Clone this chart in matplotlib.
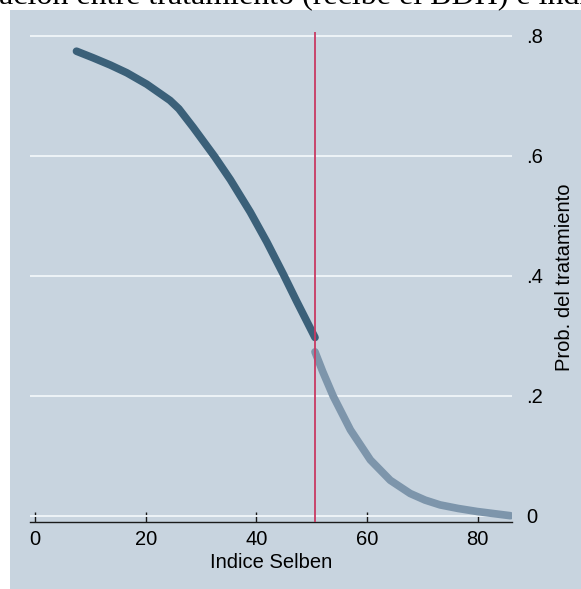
import matplotlib
matplotlib.use("Agg")
import matplotlib.pyplot as plt
from matplotlib.patches import Rectangle

# ---- data ----
dark_x = [7.5, 10.5, 13.6, 16.6, 20.2, 24.4, 26.0, 28.6, 32.5, 35.3, 38.9, 41.9, 44.9, 47.3, 50.6]
dark_y = [0.774, 0.763, 0.751, 0.738, 0.719, 0.692, 0.678, 0.647, 0.598, 0.560, 0.506, 0.456, 0.402, 0.357, 0.297]
light_x = [50.6, 52.0, 53.9, 57.0, 60.6, 64.2, 67.8, 70.5, 73.2, 76.5, 79.9, 85.9]
light_y = [0.273, 0.240, 0.199, 0.143, 0.093, 0.059, 0.037, 0.026, 0.018, 0.012, 0.007, 0.0]
cutoff = 50.6
x_ticks = [0, 20, 40, 60, 80]
x_tick_labels = ["0", "20", "40", "60", "80"]
y_ticks = [0, 0.2, 0.4, 0.6, 0.8]
y_tick_labels = ["0", ".2", ".4", ".6", ".8"]
visible_title = "ación entre tratamiento (recibe el BDH) e índice Selben"
x_label = "Indice Selben"
y_label = "Prob. del tratamiento"

plt.rcParams['font.family'] = ['Liberation Sans', 'DejaVu Sans']

W, H = 581, 589
fig = plt.figure(figsize=(W / 100, H / 100), dpi=100)
fig.patch.set_facecolor('white')

bg_color = '#c8d4df'
bg = Rectangle((10 / W, 0), 1, (H - 10) / H, transform=fig.transFigure,
               facecolor=bg_color, edgecolor='none', zorder=-10)
fig.patches.append(bg)

# title (clipped by the figure edge, as in the reference)
fig.text(-1 / W, (H - 4) / H, visible_title, ha='left', va='baseline',
         fontsize=23, family=['Liberation Serif', 'DejaVu Serif'], color='black')

left, right, top, bottom = 30, 512, 32, 522
ax = fig.add_axes([left / W, (H - bottom) / H, (right - left) / W, (bottom - top) / H])
ax.set_zorder(1)
ax.set_facecolor('none')
ax.set_xlim(-0.9, 86.2)
ax.set_ylim(-0.0105, 0.806)

for s in ['left', 'top', 'right']:
    ax.spines[s].set_visible(False)
ax.spines['bottom'].set_color('#1a1a1a')
ax.spines['bottom'].set_linewidth(1.0)

ax.set_yticks(y_ticks)
ax.set_yticklabels(y_tick_labels)
ax.yaxis.tick_right()
ax.yaxis.set_label_position('right')
ax.tick_params(axis='y', length=0, pad=10, labelsize=14.5, labelcolor='black')
ax.yaxis.grid(True, color='#eef3f7', linewidth=1.4)
ax.set_axisbelow(True)

ax.set_xticks(x_ticks)
ax.set_xticklabels(x_tick_labels)
ax.tick_params(axis='x', direction='in', length=7, width=1, color='#1a1a1a', pad=6,
               labelsize=14.5, labelcolor='black')

ax.plot(dark_x, dark_y, color='#3b6079', lw=5.5, solid_capstyle='round',
        solid_joinstyle='round', zorder=3)
ax.plot(light_x, light_y, color='#7d95ab', lw=5.5, solid_capstyle='round',
        solid_joinstyle='round', zorder=3)
ax.axvline(cutoff, color='#c93a62', lw=1.3, zorder=4)

ax.set_xlabel(x_label, fontsize=14.5, labelpad=3)
ax.set_ylabel(y_label, fontsize=14.5, labelpad=9, rotation=90)

fig.savefig('out.png', dpi=100)
